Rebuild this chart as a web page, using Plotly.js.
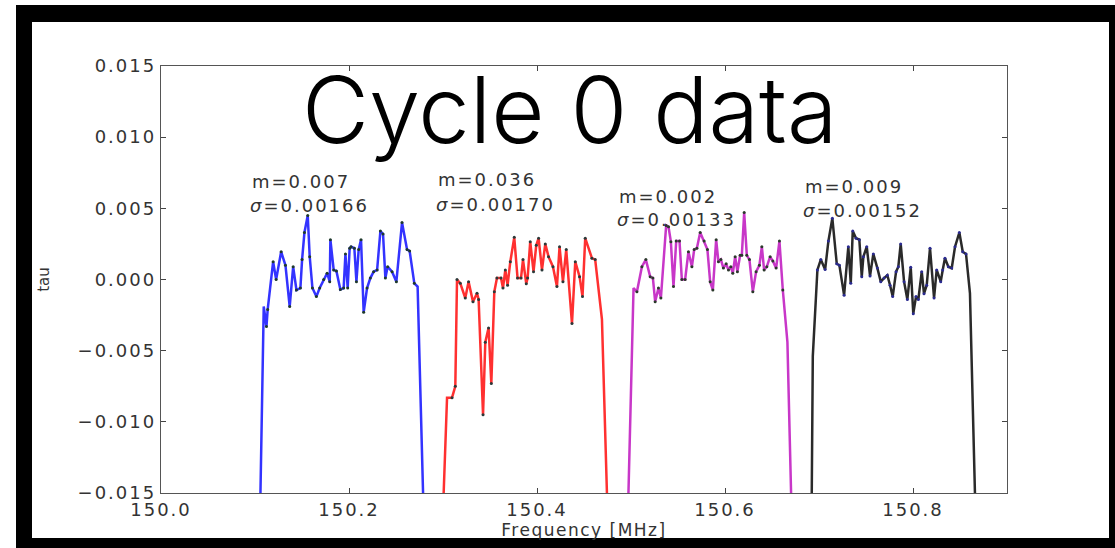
<!DOCTYPE html>
<html>
<head>
<meta charset="utf-8">
<script src="https://cdn.plot.ly/plotly-3.0.1.min.js"></script>
<style>
  html, body { margin:0; padding:0; background:#fff; overflow:hidden; }
  #frame { position:absolute; left:16px; top:5px; width:1099px; height:543px; box-sizing:border-box;
           border-left:16px solid #000; border-top:17px solid #000; border-right:6px solid #000; border-bottom:10px solid #000; background:#fff; }
  #plot { position:absolute; left:0; top:0; width:1115px; height:548px; }
  .xtick text, .ytick text { letter-spacing: 2px; }
  .g-xtitle text { letter-spacing: 1.5px; }
  .annotation-text.stat { letter-spacing: 2px; }
</style>
</head>
<body>
<div id="frame"></div>
<div id="plot"></div>
<script>
// ---- data ----
const blueFreq = [150.1058,150.1093,150.1122,150.1135,150.1193,150.1225,150.1278,150.1324,150.1369,150.1406,150.1441,150.1483,150.1501,150.1526,150.1561,150.1582,150.1611,150.1653,150.1688,150.1731,150.1767,150.1795,150.1802,150.1837,150.1866,150.1908,150.1943,150.1962,150.1986,150.2007,150.2022,150.2057,150.2079,150.2103,150.2128,150.2156,150.2192,150.2227,150.2262,150.2299,150.2334,150.2362,150.2387,150.2411,150.2458,150.2504,150.2564,150.2618,150.2645,150.2695,150.2730,150.2788];
const blueTau = [-0.015,-0.0019,-0.0033,-0.0021,0.00125,0.0000,0.00195,0.0010,-0.0019,0.0009,-0.00074,-0.0006,0.0014,0.0033,0.0045,0.0016,-0.0006,-0.0012,-0.0006,0.0000,0.00044,-0.00015,0.0028,0.00067,0.0006,-0.0007,-0.0006,0.0018,-0.0006,0.0022,0.0023,0.0022,-0.00015,0.0021,0.0028,-0.0023,-0.0006,0.0001,0.00055,0.00067,0.0034,0.0032,0.0001,0.0009,0.00055,-0.00015,0.0040,0.0021,0.0020,-0.00027,-0.0005,-0.015];

const redFreq = [150.3007,150.3043,150.3096,150.3131,150.3149,150.3184,150.3237,150.3272,150.3319,150.3362,150.3379,150.3426,150.3450,150.3485,150.3514,150.3546,150.3574,150.3617,150.3638,150.3663,150.3687,150.3716,150.3758,150.3793,150.3830,150.3851,150.3886,150.3900,150.3928,150.3963,150.3992,150.4017,150.4053,150.4088,150.4123,150.4170,150.4212,150.4240,150.4276,150.4311,150.4372,150.4407,150.4453,150.4484,150.4513,150.4584,150.4619,150.4691,150.4744];
const redTau = [-0.015,-0.0083,-0.0083,-0.0075,0.0000,-0.00027,-0.0013,-0.00015,-0.00156,-0.00097,-0.0014,-0.0095,-0.0044,-0.0034,-0.0073,-0.00086,0.0001,0.0001,-0.0006,0.00067,-0.0004,0.00125,0.00296,0.0001,0.0001,0.0014,-0.0003,0.0001,0.00266,0.00055,0.0024,0.0029,0.00067,0.0025,0.0016,0.0009,-0.0005,0.0023,-0.00015,0.0021,-0.0031,0.00125,0.0002,-0.0012,0.0029,0.0015,0.0014,-0.0028,-0.015];

const magentaFreq = [150.4973,150.5027,150.5063,150.5116,150.5158,150.5204,150.5233,150.5257,150.5292,150.5318,150.5374,150.5399,150.5424,150.5452,150.5481,150.5516,150.5541,150.5576,150.5611,150.5648,150.5672,150.5701,150.5736,150.5778,150.5813,150.5842,150.5871,150.5906,150.5930,150.5956,150.5983,150.6012,150.6037,150.6062,150.6083,150.6108,150.6132,150.6161,150.6179,150.6204,150.6232,150.6260,150.6296,150.6331,150.6366,150.6392,150.6416,150.6445,150.6480,150.6509,150.6544,150.6579,150.6615,150.6664,150.6703];
const magentaTau = [-0.015,-0.0006,-0.00086,0.0009,0.0014,0.0002,0.0001,-0.00156,-0.0006,-0.0013,0.0038,0.0037,0.00266,-0.0005,0.0027,0.0027,0.0000,0.0000,0.00195,0.0009,0.0021,0.0022,0.0033,0.0027,0.0021,-0.00015,-0.00074,0.0028,0.00125,0.0014,0.0008,0.0011,0.00067,0.0009,0.00044,0.0016,0.00055,0.0017,0.0017,0.0047,0.0017,0.0014,-0.00086,0.00055,0.0010,0.0023,0.00067,0.0009,0.0016,0.0013,0.0008,0.0027,-0.00074,-0.0044,-0.015];

const blackFreq = [150.6923,150.6934,150.6983,150.7019,150.7065,150.7100,150.7142,150.7189,150.7217,150.7267,150.7312,150.7338,150.7359,150.7394,150.7429,150.7455,150.7472,150.7508,150.7543,150.7578,150.7621,150.7657,150.7692,150.7727,150.7756,150.7784,150.7820,150.7844,150.7869,150.7905,150.7940,150.7976,150.8003,150.8032,150.8057,150.8093,150.8117,150.8146,150.8181,150.8224,150.8252,150.8295,150.8316,150.8340,150.8376,150.8412,150.8447,150.8493,150.8529,150.8564,150.8606,150.8659];
const blackTau = [-0.015,-0.0054,0.00067,0.0014,0.0007,0.0027,0.0043,0.0011,0.0010,-0.0011,0.0023,-0.00027,0.0034,0.0029,0.0028,0.0002,0.0016,0.0023,0.00025,0.0018,0.0008,-0.00015,0.0001,0.0003,-0.0004,-0.0012,0.00055,0.0009,0.0025,-0.00015,-0.0014,0.00086,-0.0024,-0.0012,-0.0014,0.00055,-0.0010,-0.0004,0.0022,-0.0013,0.00067,-0.00015,0.00067,0.0015,0.0009,0.0008,0.0023,0.0033,0.00195,0.0018,-0.00097,-0.015];

const meanLabels = ["0.007", "0.036", "0.002", "0.009"];
const sigmaLabels = ["0.00166", "0.00170", "0.00133", "0.00152"];
const yTickVals = [-0.015, -0.010, -0.005, 0.000, 0.005, 0.010, 0.015];
const xTickVals = [150.0, 150.2, 150.4, 150.6, 150.8];
const chartLabel = "Cycle 0 data";

// ---- styling ----
const series = [
  {x: blueFreq, y: blueTau, color: '#3333ff', dot: '#1f3a2a'},
  {x: redFreq, y: redTau, color: '#ff3030', dot: '#2a3a3a'},
  {x: magentaFreq, y: magentaTau, color: '#c837c8', dot: '#2a3a2a'},
  {x: blackFreq, y: blackTau, color: '#2a2a2a', dot: '#2a2a90'}
];

const traces = [];
series.forEach(s => {
  traces.push({x: s.x, y: s.y, type: 'scatter', mode: 'lines',
               line: {color: s.color, width: 2.5}, hoverinfo: 'skip'});
});
series.forEach(s => {
  traces.push({x: s.x.slice(2, -2), y: s.y.slice(2, -2), type: 'scatter', mode: 'markers',
               marker: {color: s.dot, size: 3}, hoverinfo: 'skip'});
});

// label anchor positions (layout, data coordinates)
const statPos = [
  {x: 150.103, ym: 0.0069, ys: 0.0052},
  {x: 150.301, ym: 0.0070, ys: 0.0053},
  {x: 150.494, ym: 0.0058, ys: 0.00425},
  {x: 150.691, ym: 0.0065, ys: 0.00488}
];
const statFont = {family: 'DejaVu Sans', size: 18, color: '#333'};
const annotations = [];
statPos.forEach((p, i) => {
  annotations.push({x: p.x, y: p.ym, xref: 'x', yref: 'y', text: 'm=' + meanLabels[i],
                    showarrow: false, xanchor: 'left', yanchor: 'middle', font: statFont, borderpad: 0});
  annotations.push({x: p.x, y: p.ys, xref: 'x', yref: 'y', text: '<i>σ</i>=' + sigmaLabels[i],
                    showarrow: false, xanchor: 'left', yanchor: 'middle', font: statFont, borderpad: 0});
});
annotations.push({x: 0.484, y: 0.897, xref: 'paper', yref: 'paper', text: chartLabel, showarrow: false,
                  xanchor: 'center', yanchor: 'middle', borderpad: 0,
                  font: {family: 'Inter', size: 92, color: '#000', weight: 300}});

const layout = {
  width: 1115, height: 548,
  margin: {l: 161, r: 108, t: 66, b: 55},
  paper_bgcolor: 'rgba(0,0,0,0)',
  plot_bgcolor: '#ffffff',
  showlegend: false,
  xaxis: {
    range: [150.0, 150.9], tickvals: xTickVals, tickformat: '.1f',
    ticks: 'inside', ticklen: 5, tickcolor: '#444', mirror: 'ticks',
    showline: true, linecolor: '#555', linewidth: 1.2, showgrid: false, zeroline: false,
    tickfont: {family: 'DejaVu Sans', size: 18, color: '#333'},
    title: {text: 'Frequency [MHz]', font: {family: 'DejaVu Sans', size: 17, color: '#333'}, standoff: 0}
  },
  yaxis: {
    range: [-0.015, 0.015], tickvals: yTickVals, tickformat: '.3f',
    ticks: 'inside', ticklen: 5, tickcolor: '#444', mirror: 'ticks',
    showline: true, linecolor: '#555', linewidth: 1.2, showgrid: false, zeroline: false,
    tickfont: {family: 'DejaVu Sans', size: 18, color: '#333'},
    title: {text: 'tau', font: {family: 'DejaVu Sans', size: 15, color: '#333'}, standoff: 24}
  },
  annotations: annotations
};

Plotly.newPlot('plot', traces, layout, {staticPlot: true}).then(() => {
  document.querySelectorAll('#plot .annotation-text').forEach(t => {
    if (/^(m=|σ)/.test(t.textContent)) t.classList.add('stat');
  });
});
</script>
</body>
</html>
